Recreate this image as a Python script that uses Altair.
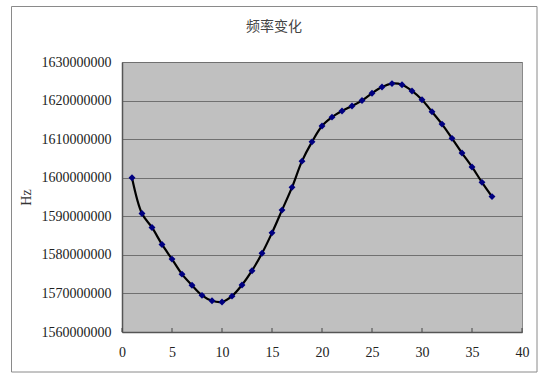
import altair as alt
import pandas as pd

# data
x_vals = list(range(1, 38))
freq_mhz = [1600.0, 1590.7, 1587.1, 1582.7, 1578.9, 1575.0, 1572.1, 1569.5, 1568.1, 1567.8,
            1569.3, 1572.2, 1575.9, 1580.4, 1585.7, 1591.6, 1597.5, 1604.3, 1609.3, 1613.4,
            1615.7, 1617.3, 1618.6, 1620.0, 1621.9, 1623.5, 1624.4, 1624.1, 1622.5, 1620.2,
            1617.1, 1613.9, 1610.2, 1606.4, 1602.8, 1598.8, 1595.1]
x_ticks = [0, 5, 10, 15, 20, 25, 30, 35, 40]
y_ticks = [1560000000, 1570000000, 1580000000, 1590000000, 1600000000,
           1610000000, 1620000000, 1630000000]
title_text = "频率变化"
y_title = "Hz"

df = pd.DataFrame({"x": x_vals, "hz": [round(v * 1e6) for v in freq_mhz]})
tick_df = pd.DataFrame({"t": x_ticks})
one = pd.DataFrame({"k": [0]})

W, H = 400, 270
serif = "Liberation Serif"

xs = alt.X("x:Q", scale=alt.Scale(domain=[0, 40], nice=False, zero=False),
           axis=alt.Axis(values=x_ticks, grid=False, tickSize=0, labelPadding=13,
                         labelFont=serif, labelFontSize=14, labelColor="#222",
                         labelOverlap=False, labelFlush=False,
                         domainColor="#555", domainWidth=1.5, title=None))
ys = alt.Y("hz:Q", scale=alt.Scale(domain=[1560000000, 1630000000], nice=False, zero=False),
           axis=alt.Axis(values=y_ticks, tickCount=8, format="d", grid=True, gridColor="#707070",
                         gridWidth=1, tickSize=0, labelPadding=11, labelFont=serif,
                         labelFontSize=14, labelColor="#222", labelOverlap=False,
                         labelFlush=False, domainColor="#555",
                         domainWidth=1.5, title=y_title, titleFont=serif,
                         titleFontSize=14, titleFontWeight="normal", titleColor="#333",
                         titleX=-89, titleY=135, titleAngle=-90))

line = alt.Chart(df).mark_line(color="black", strokeWidth=2.2, interpolate="catmull-rom").encode(
    x=xs, y=ys)
pts = alt.Chart(df).mark_point(shape="diamond", filled=True, color="#000080", size=48,
                               opacity=1).encode(x="x:Q", y="hz:Q")

ticks = alt.Chart(tick_df).mark_rule(color="#444", strokeWidth=1).encode(
    x="t:Q", y=alt.value(H - 4), y2=alt.value(H))

frame = alt.Chart(one).mark_rect(fill=None, stroke="#8a8a8a", strokeWidth=1, clip=False).encode(
    x=alt.value(-110.5), x2=alt.value(415), y=alt.value(-55.5), y2=alt.value(310))

title = alt.Chart(one).mark_text(text=title_text, font="Noto Sans CJK SC", fontSize=14,
                                 color="#444", baseline="middle", align="center").encode(
    x=alt.value(152), y=alt.value(-35))

chart = alt.layer(frame, title, line, ticks, pts).properties(
    width=W, height=H,
    autosize=alt.AutoSizeParams(type="none"),
    padding={"left": 122, "top": 62, "right": 28, "bottom": 47},
    background="white",
).configure_view(fill="#C0C0C0", stroke="#8a8a8a", strokeWidth=1)

chart.save("out.html", embed_options={"renderer": "svg", "actions": False})
